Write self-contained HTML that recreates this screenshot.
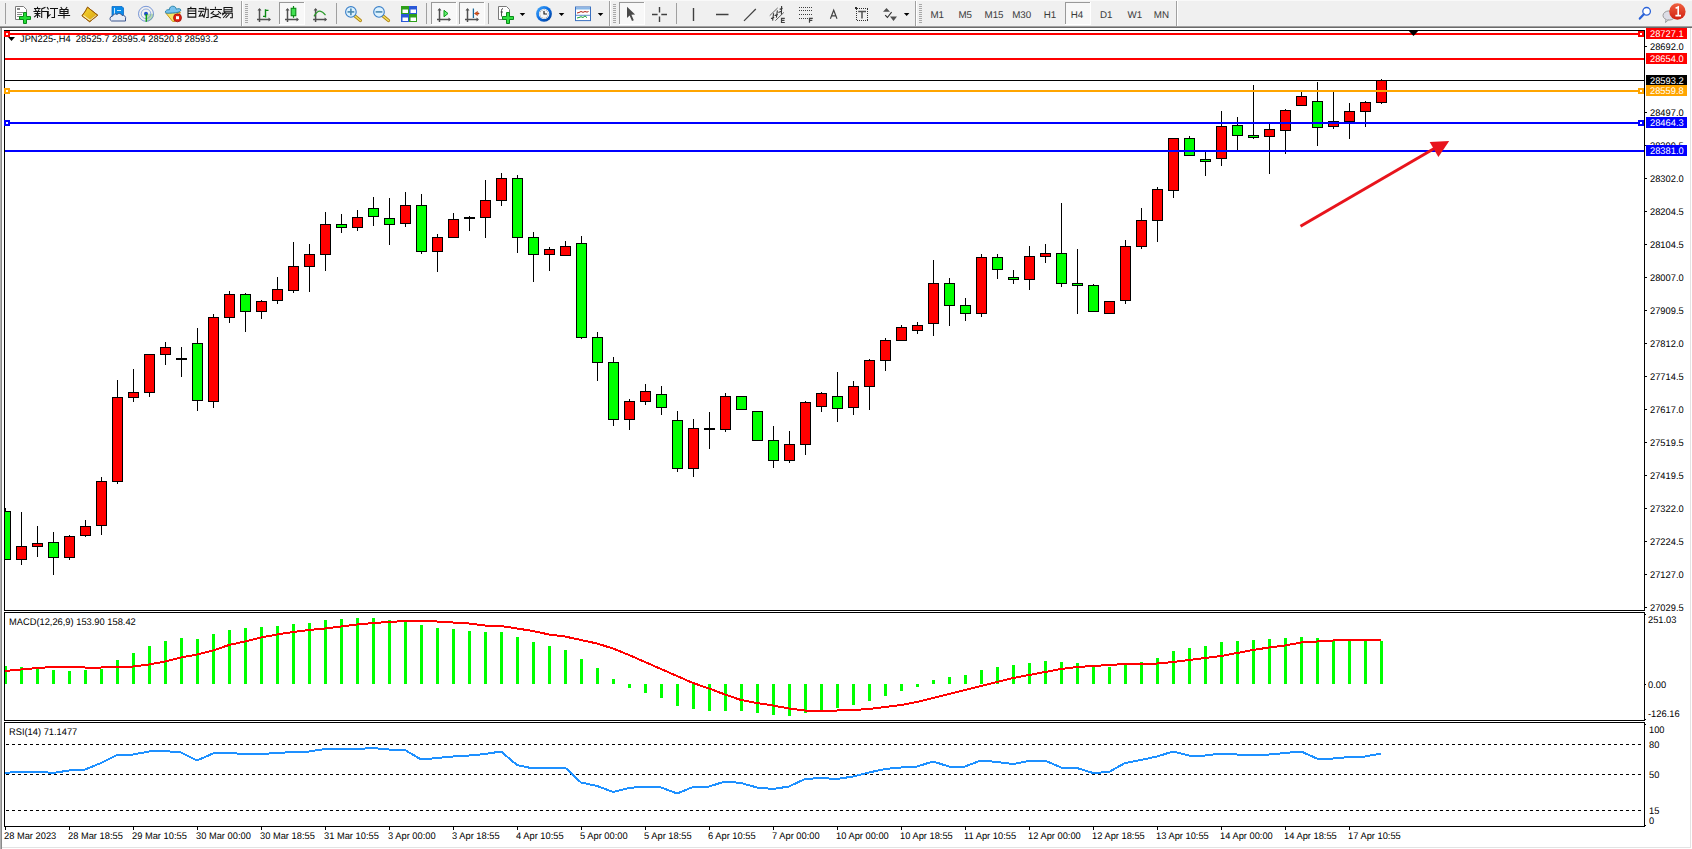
<!DOCTYPE html>
<html><head><meta charset="utf-8"><style>
html,body{margin:0;padding:0;width:1692px;height:849px;overflow:hidden;background:#fff;font-family:"Liberation Sans", sans-serif;}
#tb{position:absolute;left:0;top:0;width:1692px;height:26px;background:#f0f0f0;}
</style></head><body>
<svg width="1692" height="849" viewBox="0 0 1692 849" style="position:absolute;left:0;top:0" shape-rendering="crispEdges">
<defs>
<clipPath id="cmain"><rect x="5" y="31" width="1639" height="579"/></clipPath>
<clipPath id="cmacd"><rect x="5" y="613" width="1639" height="107"/></clipPath>
<clipPath id="crsi"><rect x="5" y="723" width="1639" height="103"/></clipPath>
</defs>
<rect x="0" y="0" width="1692" height="26" fill="#f0f0f0"/><rect x="0" y="0" width="1692" height="1" fill="#f9f9f9"/><rect x="241" y="1" width="1" height="25" fill="#a0a0a0"/><rect x="242" y="1" width="1" height="25" fill="#ffffff"/><rect x="609" y="1" width="1" height="25" fill="#a0a0a0"/><rect x="610" y="1" width="1" height="25" fill="#ffffff"/><rect x="915" y="1" width="1" height="25" fill="#a0a0a0"/><rect x="916" y="1" width="1" height="25" fill="#ffffff"/><rect x="1176" y="1" width="1" height="25" fill="#a0a0a0"/><rect x="1177" y="1" width="1" height="25" fill="#ffffff"/><rect x="245" y="4" width="3" height="1" fill="#a8a8a8"/><rect x="245" y="6" width="3" height="1" fill="#a8a8a8"/><rect x="245" y="8" width="3" height="1" fill="#a8a8a8"/><rect x="245" y="10" width="3" height="1" fill="#a8a8a8"/><rect x="245" y="12" width="3" height="1" fill="#a8a8a8"/><rect x="245" y="14" width="3" height="1" fill="#a8a8a8"/><rect x="245" y="16" width="3" height="1" fill="#a8a8a8"/><rect x="245" y="18" width="3" height="1" fill="#a8a8a8"/><rect x="245" y="20" width="3" height="1" fill="#a8a8a8"/><rect x="245" y="22" width="3" height="1" fill="#a8a8a8"/><rect x="613" y="4" width="3" height="1" fill="#a8a8a8"/><rect x="613" y="6" width="3" height="1" fill="#a8a8a8"/><rect x="613" y="8" width="3" height="1" fill="#a8a8a8"/><rect x="613" y="10" width="3" height="1" fill="#a8a8a8"/><rect x="613" y="12" width="3" height="1" fill="#a8a8a8"/><rect x="613" y="14" width="3" height="1" fill="#a8a8a8"/><rect x="613" y="16" width="3" height="1" fill="#a8a8a8"/><rect x="613" y="18" width="3" height="1" fill="#a8a8a8"/><rect x="613" y="20" width="3" height="1" fill="#a8a8a8"/><rect x="613" y="22" width="3" height="1" fill="#a8a8a8"/><rect x="919" y="4" width="3" height="1" fill="#a8a8a8"/><rect x="919" y="6" width="3" height="1" fill="#a8a8a8"/><rect x="919" y="8" width="3" height="1" fill="#a8a8a8"/><rect x="919" y="10" width="3" height="1" fill="#a8a8a8"/><rect x="919" y="12" width="3" height="1" fill="#a8a8a8"/><rect x="919" y="14" width="3" height="1" fill="#a8a8a8"/><rect x="919" y="16" width="3" height="1" fill="#a8a8a8"/><rect x="919" y="18" width="3" height="1" fill="#a8a8a8"/><rect x="919" y="20" width="3" height="1" fill="#a8a8a8"/><rect x="919" y="22" width="3" height="1" fill="#a8a8a8"/><rect x="5" y="3" width="1" height="21" fill="#a0a0a0"/><rect x="336" y="3" width="1" height="21" fill="#a0a0a0"/><rect x="426" y="3" width="1" height="21" fill="#a0a0a0"/><rect x="488" y="3" width="1" height="21" fill="#a0a0a0"/><rect x="676" y="3" width="1" height="21" fill="#a0a0a0"/><rect x="279" y="2" width="25" height="22" fill="#f8f8f8"/><rect x="279" y="2" width="25" height="1" fill="#999999"/><rect x="279" y="2" width="1" height="22" fill="#999999"/><rect x="304" y="2" width="1" height="23" fill="#ffffff"/><rect x="279" y="24" width="26" height="1" fill="#ffffff"/><rect x="431" y="2" width="25" height="22" fill="#f8f8f8"/><rect x="431" y="2" width="25" height="1" fill="#999999"/><rect x="431" y="2" width="1" height="22" fill="#999999"/><rect x="456" y="2" width="1" height="23" fill="#ffffff"/><rect x="431" y="24" width="26" height="1" fill="#ffffff"/><rect x="459" y="2" width="25" height="22" fill="#f8f8f8"/><rect x="459" y="2" width="25" height="1" fill="#999999"/><rect x="459" y="2" width="1" height="22" fill="#999999"/><rect x="484" y="2" width="1" height="23" fill="#ffffff"/><rect x="459" y="24" width="26" height="1" fill="#ffffff"/><rect x="619" y="2" width="25" height="22" fill="#f8f8f8"/><rect x="619" y="2" width="25" height="1" fill="#999999"/><rect x="619" y="2" width="1" height="22" fill="#999999"/><rect x="644" y="2" width="1" height="23" fill="#ffffff"/><rect x="619" y="24" width="26" height="1" fill="#ffffff"/><rect x="1065" y="2" width="25" height="22" fill="#f8f8f8"/><rect x="1065" y="2" width="25" height="1" fill="#999999"/><rect x="1065" y="2" width="1" height="22" fill="#999999"/><rect x="1090" y="2" width="1" height="23" fill="#ffffff"/><rect x="1065" y="24" width="26" height="1" fill="#ffffff"/><g shape-rendering="auto"><path d="M15.5,6.5 h8 l3,3 v10 h-11 z" fill="#fff" stroke="#7a7a7a" stroke-width="1"/><rect x="17" y="8" width="3" height="2" fill="#8a8a8a"/><rect x="17" y="12" width="6" height="1" fill="#8a8a8a"/><rect x="17" y="14" width="5" height="1" fill="#8a8a8a"/><rect x="17" y="16" width="3" height="1" fill="#8a8a8a"/><path d="M23.5,12.5 h3 v4 h4 v3 h-4 v4 h-3 v-4 h-4 v-3 h4 z" fill="#22dd33" stroke="#0a8a1a" stroke-width="1"/><g fill="none" stroke="#111" stroke-width="1.05" stroke-linecap="square"><path d="M37.5,7.3 v1 M34.5,8.5 h5.5 M35.3,9.6 l0.8,1.2 M39,9.6 l-0.7,1.2 M34,11.5 h6 M35,13.4 h5 M37.5,11.5 v6 M37,14.5 l-2.5,2.3 M38.2,14.8 l1.6,1.5"/><path d="M45,7.5 l-3.3,1.4 v8.5 M41.7,11.5 h6 M47.5,11.5 v6.4"/><path d="M47.3,7.5 l1,1.6 M46.4,11.5 h1.8 v4.8 l2,-1.6 M50.5,8.5 h7 M54.5,8.5 v9 h-2.5"/><path d="M61,7.4 l1,1.3 M66.8,7.4 l-1,1.3 M60,9.5 h8 v4 h-8 z M60,11.5 h8 M64,9.5 v8.4 M58.4,15.5 h11.2"/></g><path d="M87.5,7.2 L97.7,15.2 L89.7,21.7 L82,15.8 L85.5,11 Z" fill="#e6b422" stroke="#9a5c0a" stroke-width="1"/><defs><linearGradient id="book" x1="0" y1="0" x2="1" y2="1"><stop offset="0" stop-color="#f8d830"/><stop offset="1" stop-color="#d8a010"/></linearGradient></defs><path d="M87.5,7.6 L97.2,15.2 L89.7,21.2 L82.5,15.8 Z" fill="url(#book)"/><path d="M83.2,15.6 L89.8,20.3" fill="none" stroke="#f8eaa8" stroke-width="1.4"/><path d="M90.4,20.2 L96.4,15.4" fill="none" stroke="#e8dcb0" stroke-width="1.3"/><path d="M87.5,7.2 L97.7,15.2 L89.7,21.7 L82,15.8 L85.5,11 Z" fill="none" stroke="#9a5c0a" stroke-width="1"/><path d="M112,6.5 h10 l1.5,1.5 v8 h-11.5 z" fill="#0a8ae8" stroke="#0a6ac8" stroke-width="0.8"/><path d="M114.5,8 v6 M117,10.5 h4" stroke="#c8e8ff" stroke-width="1" fill="none"/><path d="M111.5,21 a2.5,2.5 0 0 1 1,-4.8 a3,3 0 0 1 4.5,-1.8 a3,3 0 0 1 5,1 a2.8,2.8 0 0 1 3.5,3.6 v2 z" fill="#e8ecf4" stroke="#3a5690" stroke-width="1"/><path d="M146,13.8 L146,21.8 A8,8 0 0 0 154,13.8 Z" fill="#b8dcb0"/><circle cx="146" cy="13.8" r="7.5" fill="none" stroke="#5a80d0" stroke-width="1" opacity="0.8"/><circle cx="146" cy="13.8" r="4.8" fill="none" stroke="#6a90d8" stroke-width="1" opacity="0.7"/><circle cx="146" cy="13.8" r="2" fill="#2050c8"/><path d="M146.3,14 v7.8" stroke="#10a010" stroke-width="1.4"/><path d="M165.8,13 L180.4,12.4 L175,21.4 L172.6,21.4 Z" fill="#f4e468" stroke="#c8981a" stroke-width="1"/><path d="M165.4,12.3 C165.2,10.2 167.5,9.4 169.4,9.8 C169.4,7.2 171,6.2 172.8,6.2 C175,6.2 176.2,7.6 176.2,9.2 C178,8.4 181,8.5 180.8,10.2 C180.5,12 176.5,12.9 172.5,13 C168.5,13.2 165.6,13.6 165.4,12.3 Z" fill="#78c2ee" stroke="#2a84aa" stroke-width="1"/><circle cx="177.5" cy="17.8" r="4" fill="#e02010" stroke="#a01008" stroke-width="0.8"/><rect x="176" y="16.2" width="3" height="3" fill="#fff"/><g fill="none" stroke="#111" stroke-width="1.05" stroke-linecap="square"><path d="M191,7.3 l-0.6,1 M188,8.6 h7.8 v8.5 h-7.8 z M188,11 h7.8 M188,13.5 h7.8"/><path d="M199.3,8.6 h4 M198.6,11.3 h5.2 M201.5,11.8 l-2.2,4.5 l3.5,-0.8 M202.5,14.3 l0.8,2 M203.6,9.2 h4.6 v8.2 h-1.5 M205.8,7.3 v2.5 l-1.8,7.5"/><path d="M215.4,7.3 v1 M210.5,9.4 h11 M213.4,11.5 l-2.3,2 M218.4,11.5 l2.3,2 M212.8,14 l7.5,3.8 M218.6,14 l-7.6,3.8"/><path d="M224,7.5 h8 v4.3 h-8 z M224,9.7 h8 M222.5,13.3 h9.8 v4.5 h-1.8 M225,12.3 l-2.5,2.5 M226.3,14.5 l-2.8,3 M229,14.5 l-3,3"/></g><path d="M259.5,9 V22 M257.0,19.5 H270.0" stroke="#505050" stroke-width="1.5" fill="none"/><path d="M257.5,10.5 L259.5,8 L261.5,10.5 Z M268.5,17.5 L271.0,19.5 L268.5,21.5 Z" fill="#505050"/><path d="M265.5,9.2 V17.6 M265.5,10.4 H268.5 M263,16.4 H265.5" stroke="#0a8a14" stroke-width="1.4" fill="none"/><path d="M287.5,9 V22 M285.0,19.5 H298.0" stroke="#505050" stroke-width="1.5" fill="none"/><path d="M285.5,10.5 L287.5,8 L289.5,10.5 Z M296.5,17.5 L299.0,19.5 L296.5,21.5 Z" fill="#505050"/><path d="M293.5,6 V17.8" stroke="#0a8a14" stroke-width="1.2"/><rect x="291.2" y="8.3" width="4.6" height="7.4" fill="#40e050" stroke="#0a8a14" stroke-width="1.1"/><path d="M315.6,9 V22 M313.1,19.5 H326.1" stroke="#505050" stroke-width="1.5" fill="none"/><path d="M313.6,10.5 L315.6,8 L317.6,10.5 Z M324.6,17.5 L327.1,19.5 L324.6,21.5 Z" fill="#505050"/><path d="M314,16.4 Q317,11 320,11.2 Q322.5,11.5 325.5,15.2" stroke="#2a9a2a" stroke-width="1.2" fill="none"/><path d="M354.9,16 L360.4,20.5" stroke="#b08010" stroke-width="3.2" stroke-linecap="round"/><path d="M354.9,16 L360.4,20.5" stroke="#f0e060" stroke-width="1.6" stroke-linecap="round"/><circle cx="350.9" cy="11.9" r="5.3" fill="#dcf2ff" stroke="#3a7fc8" stroke-width="1.1"/><path d="M347.5,11.9 H354.29999999999995" stroke="#4a88b0" stroke-width="1.6"/><path d="M350.9,8.5 V15.3" stroke="#4a88b0" stroke-width="1.6"/><path d="M383,16 L388.5,20.5" stroke="#b08010" stroke-width="3.2" stroke-linecap="round"/><path d="M383,16 L388.5,20.5" stroke="#f0e060" stroke-width="1.6" stroke-linecap="round"/><circle cx="379" cy="11.9" r="5.3" fill="#dcf2ff" stroke="#3a7fc8" stroke-width="1.1"/><path d="M375.6,11.9 H382.4" stroke="#4a88b0" stroke-width="1.6"/><rect x="401" y="6" width="8" height="8" fill="#2ea01a"/><rect x="402.5" y="9.5" width="5.5" height="3.5" fill="#fff"/><rect x="409" y="6" width="8" height="8" fill="#2a58d8"/><rect x="410.5" y="9.5" width="5.5" height="3.5" fill="#fff"/><rect x="401" y="14" width="8" height="8" fill="#2a58d8"/><rect x="402.5" y="17.5" width="5.5" height="3.5" fill="#fff"/><rect x="409" y="14" width="8" height="8" fill="#2ea01a"/><rect x="410.5" y="17.5" width="5.5" height="3.5" fill="#fff"/><path d="M439.5,9 V22 M437.0,19.5 H450.0" stroke="#505050" stroke-width="1.5" fill="none"/><path d="M437.5,10.5 L439.5,8 L441.5,10.5 Z M448.5,17.5 L451.0,19.5 L448.5,21.5 Z" fill="#505050"/><path d="M444,10.3 L448,13.5 L444,16.8 Z" fill="#60ee70" stroke="#0a9a14" stroke-width="1"/><path d="M467.5,9 V22 M465.0,19.5 H478.0" stroke="#505050" stroke-width="1.5" fill="none"/><path d="M465.5,10.5 L467.5,8 L469.5,10.5 Z M476.5,17.5 L479.0,19.5 L476.5,21.5 Z" fill="#505050"/><path d="M473.4,8.5 V18" stroke="#1a6a9a" stroke-width="1.3"/><path d="M474.5,13.5 L477.5,11.5 L477,13 H479 V14 H477 L477.5,15.5 Z" fill="#e85a10" stroke="#9a2a0a" stroke-width="0.6"/><path d="M498.5,6.5 h8 l3,3 v10 h-11 z" fill="#fff" stroke="#7a7a7a" stroke-width="1"/><path d="M503,8.5 q-1.5,0 -1.5,2 v6 M500.5,12 h2.5" stroke="#404040" stroke-width="0.9" fill="none"/><path d="M506.5,12.5 h3 v4 h4 v3 h-4 v4 h-3 v-4 h-4 v-3 h4 z" fill="#30e040" stroke="#0a8a1a" stroke-width="1"/><path d="M519.7,13 h5.5 l-2.75,3 z" fill="#000"/><path d="M558.8,13 h5.5 l-2.75,3 z" fill="#000"/><path d="M597.8,13 h5.5 l-2.75,3 z" fill="#000"/><path d="M903.9,13 h5.5 l-2.75,3 z" fill="#000"/><defs><linearGradient id="clk" x1="0" y1="0" x2="1" y2="1"><stop offset="0" stop-color="#4ab0ff"/><stop offset="0.5" stop-color="#0a6ae0"/><stop offset="1" stop-color="#003a90"/></linearGradient><linearGradient id="badge" x1="0" y1="0" x2="0" y2="1"><stop offset="0" stop-color="#f06040"/><stop offset="1" stop-color="#d02010"/></linearGradient></defs><circle cx="544" cy="13.8" r="7.9" fill="url(#clk)"/><circle cx="544.1" cy="13.9" r="5.2" fill="#f6f6f6"/><circle cx="544.10" cy="9.70" r="0.45" fill="#555"/><circle cx="546.20" cy="10.26" r="0.45" fill="#555"/><circle cx="547.74" cy="11.80" r="0.45" fill="#555"/><circle cx="548.30" cy="13.90" r="0.45" fill="#555"/><circle cx="547.74" cy="16.00" r="0.45" fill="#555"/><circle cx="546.20" cy="17.54" r="0.45" fill="#555"/><circle cx="544.10" cy="18.10" r="0.45" fill="#555"/><circle cx="542.00" cy="17.54" r="0.45" fill="#555"/><circle cx="540.46" cy="16.00" r="0.45" fill="#555"/><circle cx="539.90" cy="13.90" r="0.45" fill="#555"/><circle cx="540.46" cy="11.80" r="0.45" fill="#555"/><circle cx="542.00" cy="10.26" r="0.45" fill="#555"/><path d="M544,11 V14 H547" stroke="#202020" stroke-width="1.2" fill="none"/><rect x="575.5" y="7" width="15" height="13.6" fill="#fff" stroke="#3a70c0" stroke-width="1"/><rect x="576" y="7.5" width="14" height="2" fill="#8ab8e8"/><path d="M576,15.3 h14" stroke="#3a70c0" stroke-width="0.8"/><path d="M577,13 l2,-0.5 l2,-1 l2,0.8 l2,-0.8 l2,0.6 l1.5,-0.6" stroke="#b02010" stroke-width="1" fill="none"/><path d="M577,18 l2,-0.5 l2,-0.8 l2,0.8 l2,-1.6 l2,1.8" stroke="#10a030" stroke-width="1" fill="none"/><path d="M627,6.7 L635.1,14.6 L631.4,14.8 L633.8,20.2 L632,21 L629.6,15.6 L627,18 Z" fill="#4a4a4a"/><path d="M652,14.5 H657.6 M661.3,14.5 H667 M659.5,7 V12.6 M659.5,16.4 V22" stroke="#404040" stroke-width="1.4"/><path d="M693.5,8 V21 M716,14.5 H728.5" stroke="#404040" stroke-width="1.4"/><path d="M744,20.8 L755.8,9" stroke="#404040" stroke-width="1.2"/><path d="M769.7,15.7 L777.7,7.9 M775.3,20.7 L783.9,12.4" stroke="#505050" stroke-width="0.9" fill="none"/><path d="M772.6,20.6 L773.6,13.2 M776.4,17.6 L777.4,10.4 M781.6,6 L781.4,14.6 M771,18.6 l3.2,-1.2 M774.6,15.6 l3.2,-1.2 M778.4,12.4 l3.4,-1.4 M779.6,9.2 l3,-0.8" stroke="#383838" stroke-width="1.1" fill="none"/><path d="M784.8,18.3 h-3.3 v4.2 h3.3 M781.5,20.4 h3" stroke="#404040" stroke-width="1.2" fill="none"/><rect x="799" y="7" width="1" height="1" fill="#404040"/><rect x="801" y="7" width="1" height="1" fill="#404040"/><rect x="803" y="7" width="1" height="1" fill="#404040"/><rect x="805" y="7" width="1" height="1" fill="#404040"/><rect x="807" y="7" width="1" height="1" fill="#404040"/><rect x="809" y="7" width="1" height="1" fill="#404040"/><rect x="811" y="7" width="1" height="1" fill="#404040"/><rect x="799" y="10" width="1" height="1" fill="#404040"/><rect x="801" y="10" width="1" height="1" fill="#404040"/><rect x="803" y="10" width="1" height="1" fill="#404040"/><rect x="805" y="10" width="1" height="1" fill="#404040"/><rect x="807" y="10" width="1" height="1" fill="#404040"/><rect x="809" y="10" width="1" height="1" fill="#404040"/><rect x="811" y="10" width="1" height="1" fill="#404040"/><rect x="799" y="14" width="1" height="1" fill="#404040"/><rect x="801" y="14" width="1" height="1" fill="#404040"/><rect x="803" y="14" width="1" height="1" fill="#404040"/><rect x="805" y="14" width="1" height="1" fill="#404040"/><rect x="807" y="14" width="1" height="1" fill="#404040"/><rect x="809" y="14" width="1" height="1" fill="#404040"/><rect x="811" y="14" width="1" height="1" fill="#404040"/><rect x="799" y="18" width="1" height="1" fill="#404040"/><rect x="801" y="18" width="1" height="1" fill="#404040"/><rect x="803" y="18" width="1" height="1" fill="#404040"/><rect x="805" y="18" width="1" height="1" fill="#404040"/><rect x="807" y="18" width="1" height="1" fill="#404040"/><path d="M812.8,18.3 h-3.3 v4.5 M809.5,20.4 h2.8" stroke="#404040" stroke-width="1.2" fill="none"/><path d="M830.4,18.8 L833.7,10.2 L837,18.8 M831.7,15.8 H835.7" stroke="#404040" stroke-width="1.15" fill="none"/><rect x="857" y="8" width="1" height="1" fill="#303030"/><rect x="857" y="20" width="1" height="1" fill="#303030"/><rect x="859" y="8" width="1" height="1" fill="#303030"/><rect x="859" y="20" width="1" height="1" fill="#303030"/><rect x="861" y="8" width="1" height="1" fill="#303030"/><rect x="861" y="20" width="1" height="1" fill="#303030"/><rect x="863" y="8" width="1" height="1" fill="#303030"/><rect x="863" y="20" width="1" height="1" fill="#303030"/><rect x="865" y="8" width="1" height="1" fill="#303030"/><rect x="865" y="20" width="1" height="1" fill="#303030"/><rect x="867" y="8" width="1" height="1" fill="#303030"/><rect x="867" y="20" width="1" height="1" fill="#303030"/><rect x="856" y="9" width="1" height="1" fill="#303030"/><rect x="867" y="9" width="1" height="1" fill="#303030"/><rect x="856" y="11" width="1" height="1" fill="#303030"/><rect x="867" y="11" width="1" height="1" fill="#303030"/><rect x="856" y="13" width="1" height="1" fill="#303030"/><rect x="867" y="13" width="1" height="1" fill="#303030"/><rect x="856" y="15" width="1" height="1" fill="#303030"/><rect x="867" y="15" width="1" height="1" fill="#303030"/><rect x="856" y="17" width="1" height="1" fill="#303030"/><rect x="867" y="17" width="1" height="1" fill="#303030"/><rect x="856" y="19" width="1" height="1" fill="#303030"/><rect x="867" y="19" width="1" height="1" fill="#303030"/><rect x="855" y="7" width="2" height="2" fill="#303030"/><path d="M858.2,11.5 H866 M862,11.5 V18.6" stroke="#505050" stroke-width="1.5" fill="none"/><path d="M883,11.8 L886.5,8 L890,11.8 Z M890,16.4 L897,16.4 L893.5,20.9 Z" fill="#505050"/><path d="M885.2,15.2 L887.4,17.5 L891.6,12.2" stroke="#303030" stroke-width="1.1" fill="none"/><circle cx="1646.6" cy="11.3" r="3.8" fill="#fff" stroke="#2a62d8" stroke-width="1.3"/><path d="M1643.8,14.2 L1639.8,18.6" stroke="#2a62d8" stroke-width="2.2" stroke-linecap="round"/><ellipse cx="1669" cy="15.5" rx="6" ry="4.6" fill="#dcdde6" stroke="#9a9a9a" stroke-width="1"/><path d="M1666,19.5 L1665.5,22.5 L1668.5,19.8" fill="#dcdde6" stroke="#8a8a8a" stroke-width="0.8"/><circle cx="1677.4" cy="11.5" r="8.2" fill="url(#badge)"/><path d="M1675.6,8.2 L1678.2,7 V15.6 M1675.4,15.6 H1681" stroke="#fff" stroke-width="1.6" fill="none"/></g>
<rect x="0" y="26" width="1692" height="1" fill="#a0a0a0"/><rect x="0" y="27" width="1692" height="1" fill="#6a6a6a"/><rect x="0" y="28" width="1" height="821" fill="#b0b0b0"/><rect x="1" y="28" width="1" height="821" fill="#8a8a8a"/><rect x="4" y="30" width="1641" height="1" fill="#000"/><rect x="4" y="610" width="1641" height="1" fill="#000"/><rect x="4" y="30" width="1" height="581" fill="#000"/><rect x="1644" y="30" width="1" height="581" fill="#000"/><rect x="4" y="612" width="1641" height="1" fill="#000"/><rect x="4" y="720" width="1641" height="1" fill="#000"/><rect x="4" y="612" width="1" height="109" fill="#000"/><rect x="1644" y="612" width="1" height="109" fill="#000"/><rect x="4" y="722" width="1641" height="1" fill="#000"/><rect x="4" y="826" width="1641" height="1" fill="#000"/><rect x="4" y="722" width="1" height="105" fill="#000"/><rect x="1644" y="722" width="1" height="105" fill="#000"/><g clip-path="url(#cmain)"><rect x="5" y="508" width="1" height="3" fill="#000"/><rect x="0" y="511" width="11" height="49" fill="#000"/><rect x="1" y="512" width="9" height="47" fill="#00ff00"/><rect x="21" y="512" width="1" height="34" fill="#000"/><rect x="21" y="560" width="1" height="5" fill="#000"/><rect x="16" y="546" width="11" height="14" fill="#000"/><rect x="17" y="547" width="9" height="12" fill="#ff0000"/><rect x="37" y="526" width="1" height="17" fill="#000"/><rect x="37" y="547" width="1" height="10" fill="#000"/><rect x="32" y="543" width="11" height="4" fill="#000"/><rect x="33" y="544" width="9" height="2" fill="#ff0000"/><rect x="53" y="532" width="1" height="10" fill="#000"/><rect x="53" y="558" width="1" height="17" fill="#000"/><rect x="48" y="542" width="11" height="16" fill="#000"/><rect x="49" y="543" width="9" height="14" fill="#00ff00"/><rect x="69" y="535" width="1" height="1" fill="#000"/><rect x="69" y="558" width="1" height="2" fill="#000"/><rect x="64" y="536" width="11" height="22" fill="#000"/><rect x="65" y="537" width="9" height="20" fill="#ff0000"/><rect x="85" y="520" width="1" height="6" fill="#000"/><rect x="85" y="536" width="1" height="1" fill="#000"/><rect x="80" y="526" width="11" height="10" fill="#000"/><rect x="81" y="527" width="9" height="8" fill="#ff0000"/><rect x="101" y="477" width="1" height="4" fill="#000"/><rect x="101" y="526" width="1" height="9" fill="#000"/><rect x="96" y="481" width="11" height="45" fill="#000"/><rect x="97" y="482" width="9" height="43" fill="#ff0000"/><rect x="117" y="380" width="1" height="17" fill="#000"/><rect x="117" y="482" width="1" height="2" fill="#000"/><rect x="112" y="397" width="11" height="85" fill="#000"/><rect x="113" y="398" width="9" height="83" fill="#ff0000"/><rect x="133" y="369" width="1" height="23" fill="#000"/><rect x="133" y="398" width="1" height="4" fill="#000"/><rect x="128" y="392" width="11" height="6" fill="#000"/><rect x="129" y="393" width="9" height="4" fill="#ff0000"/><rect x="149" y="393" width="1" height="4" fill="#000"/><rect x="144" y="354" width="11" height="39" fill="#000"/><rect x="145" y="355" width="9" height="37" fill="#ff0000"/><rect x="165" y="342" width="1" height="5" fill="#000"/><rect x="165" y="355" width="1" height="10" fill="#000"/><rect x="160" y="347" width="11" height="8" fill="#000"/><rect x="161" y="348" width="9" height="6" fill="#ff0000"/><rect x="181" y="347" width="1" height="11" fill="#000"/><rect x="181" y="360" width="1" height="17" fill="#000"/><rect x="176" y="358" width="11" height="2" fill="#000"/><rect x="197" y="328" width="1" height="15" fill="#000"/><rect x="197" y="401" width="1" height="10" fill="#000"/><rect x="192" y="343" width="11" height="58" fill="#000"/><rect x="193" y="344" width="9" height="56" fill="#00ff00"/><rect x="213" y="314" width="1" height="3" fill="#000"/><rect x="213" y="402" width="1" height="6" fill="#000"/><rect x="208" y="317" width="11" height="85" fill="#000"/><rect x="209" y="318" width="9" height="83" fill="#ff0000"/><rect x="229" y="291" width="1" height="3" fill="#000"/><rect x="229" y="318" width="1" height="5" fill="#000"/><rect x="224" y="294" width="11" height="24" fill="#000"/><rect x="225" y="295" width="9" height="22" fill="#ff0000"/><rect x="245" y="293" width="1" height="1" fill="#000"/><rect x="245" y="312" width="1" height="20" fill="#000"/><rect x="240" y="294" width="11" height="18" fill="#000"/><rect x="241" y="295" width="9" height="16" fill="#00ff00"/><rect x="261" y="300" width="1" height="1" fill="#000"/><rect x="261" y="312" width="1" height="7" fill="#000"/><rect x="256" y="301" width="11" height="11" fill="#000"/><rect x="257" y="302" width="9" height="9" fill="#ff0000"/><rect x="277" y="277" width="1" height="12" fill="#000"/><rect x="277" y="301" width="1" height="3" fill="#000"/><rect x="272" y="289" width="11" height="12" fill="#000"/><rect x="273" y="290" width="9" height="10" fill="#ff0000"/><rect x="293" y="242" width="1" height="24" fill="#000"/><rect x="293" y="291" width="1" height="2" fill="#000"/><rect x="288" y="266" width="11" height="25" fill="#000"/><rect x="289" y="267" width="9" height="23" fill="#ff0000"/><rect x="309" y="244" width="1" height="10" fill="#000"/><rect x="309" y="267" width="1" height="25" fill="#000"/><rect x="304" y="254" width="11" height="13" fill="#000"/><rect x="305" y="255" width="9" height="11" fill="#ff0000"/><rect x="325" y="212" width="1" height="12" fill="#000"/><rect x="325" y="255" width="1" height="16" fill="#000"/><rect x="320" y="224" width="11" height="31" fill="#000"/><rect x="321" y="225" width="9" height="29" fill="#ff0000"/><rect x="341" y="214" width="1" height="10" fill="#000"/><rect x="341" y="228" width="1" height="5" fill="#000"/><rect x="336" y="224" width="11" height="4" fill="#000"/><rect x="337" y="225" width="9" height="2" fill="#00ff00"/><rect x="357" y="210" width="1" height="7" fill="#000"/><rect x="357" y="228" width="1" height="3" fill="#000"/><rect x="352" y="217" width="11" height="11" fill="#000"/><rect x="353" y="218" width="9" height="9" fill="#ff0000"/><rect x="373" y="197" width="1" height="11" fill="#000"/><rect x="373" y="217" width="1" height="9" fill="#000"/><rect x="368" y="208" width="11" height="9" fill="#000"/><rect x="369" y="209" width="9" height="7" fill="#00ff00"/><rect x="389" y="198" width="1" height="20" fill="#000"/><rect x="389" y="225" width="1" height="20" fill="#000"/><rect x="384" y="218" width="11" height="7" fill="#000"/><rect x="385" y="219" width="9" height="5" fill="#00ff00"/><rect x="405" y="192" width="1" height="13" fill="#000"/><rect x="405" y="224" width="1" height="3" fill="#000"/><rect x="400" y="205" width="11" height="19" fill="#000"/><rect x="401" y="206" width="9" height="17" fill="#ff0000"/><rect x="421" y="194" width="1" height="11" fill="#000"/><rect x="421" y="252" width="1" height="2" fill="#000"/><rect x="416" y="205" width="11" height="47" fill="#000"/><rect x="417" y="206" width="9" height="45" fill="#00ff00"/><rect x="437" y="234" width="1" height="3" fill="#000"/><rect x="437" y="252" width="1" height="20" fill="#000"/><rect x="432" y="237" width="11" height="15" fill="#000"/><rect x="433" y="238" width="9" height="13" fill="#ff0000"/><rect x="453" y="213" width="1" height="6" fill="#000"/><rect x="448" y="219" width="11" height="19" fill="#000"/><rect x="449" y="220" width="9" height="17" fill="#ff0000"/><rect x="469" y="216" width="1" height="1" fill="#000"/><rect x="469" y="219" width="1" height="12" fill="#000"/><rect x="464" y="217" width="11" height="2" fill="#000"/><rect x="485" y="180" width="1" height="20" fill="#000"/><rect x="485" y="218" width="1" height="20" fill="#000"/><rect x="480" y="200" width="11" height="18" fill="#000"/><rect x="481" y="201" width="9" height="16" fill="#ff0000"/><rect x="501" y="173" width="1" height="5" fill="#000"/><rect x="501" y="201" width="1" height="5" fill="#000"/><rect x="496" y="178" width="11" height="23" fill="#000"/><rect x="497" y="179" width="9" height="21" fill="#ff0000"/><rect x="517" y="175" width="1" height="3" fill="#000"/><rect x="517" y="238" width="1" height="15" fill="#000"/><rect x="512" y="178" width="11" height="60" fill="#000"/><rect x="513" y="179" width="9" height="58" fill="#00ff00"/><rect x="533" y="232" width="1" height="5" fill="#000"/><rect x="533" y="255" width="1" height="27" fill="#000"/><rect x="528" y="237" width="11" height="18" fill="#000"/><rect x="529" y="238" width="9" height="16" fill="#00ff00"/><rect x="549" y="247" width="1" height="2" fill="#000"/><rect x="549" y="255" width="1" height="16" fill="#000"/><rect x="544" y="249" width="11" height="6" fill="#000"/><rect x="545" y="250" width="9" height="4" fill="#ff0000"/><rect x="565" y="241" width="1" height="5" fill="#000"/><rect x="560" y="246" width="11" height="10" fill="#000"/><rect x="561" y="247" width="9" height="8" fill="#ff0000"/><rect x="581" y="236" width="1" height="7" fill="#000"/><rect x="581" y="338" width="1" height="1" fill="#000"/><rect x="576" y="243" width="11" height="95" fill="#000"/><rect x="577" y="244" width="9" height="93" fill="#00ff00"/><rect x="597" y="332" width="1" height="5" fill="#000"/><rect x="597" y="363" width="1" height="18" fill="#000"/><rect x="592" y="337" width="11" height="26" fill="#000"/><rect x="593" y="338" width="9" height="24" fill="#00ff00"/><rect x="613" y="357" width="1" height="5" fill="#000"/><rect x="613" y="420" width="1" height="6" fill="#000"/><rect x="608" y="362" width="11" height="58" fill="#000"/><rect x="609" y="363" width="9" height="56" fill="#00ff00"/><rect x="629" y="399" width="1" height="2" fill="#000"/><rect x="629" y="420" width="1" height="10" fill="#000"/><rect x="624" y="401" width="11" height="19" fill="#000"/><rect x="625" y="402" width="9" height="17" fill="#ff0000"/><rect x="645" y="384" width="1" height="7" fill="#000"/><rect x="645" y="402" width="1" height="3" fill="#000"/><rect x="640" y="391" width="11" height="11" fill="#000"/><rect x="641" y="392" width="9" height="9" fill="#ff0000"/><rect x="661" y="386" width="1" height="8" fill="#000"/><rect x="661" y="408" width="1" height="7" fill="#000"/><rect x="656" y="394" width="11" height="14" fill="#000"/><rect x="657" y="395" width="9" height="12" fill="#00ff00"/><rect x="677" y="411" width="1" height="9" fill="#000"/><rect x="677" y="469" width="1" height="3" fill="#000"/><rect x="672" y="420" width="11" height="49" fill="#000"/><rect x="673" y="421" width="9" height="47" fill="#00ff00"/><rect x="693" y="419" width="1" height="9" fill="#000"/><rect x="693" y="469" width="1" height="8" fill="#000"/><rect x="688" y="428" width="11" height="41" fill="#000"/><rect x="689" y="429" width="9" height="39" fill="#ff0000"/><rect x="709" y="412" width="1" height="16" fill="#000"/><rect x="709" y="430" width="1" height="19" fill="#000"/><rect x="704" y="428" width="11" height="2" fill="#000"/><rect x="725" y="393" width="1" height="3" fill="#000"/><rect x="725" y="430" width="1" height="2" fill="#000"/><rect x="720" y="396" width="11" height="34" fill="#000"/><rect x="721" y="397" width="9" height="32" fill="#ff0000"/><rect x="736" y="396" width="11" height="14" fill="#000"/><rect x="737" y="397" width="9" height="12" fill="#00ff00"/><rect x="752" y="411" width="11" height="30" fill="#000"/><rect x="753" y="412" width="9" height="28" fill="#00ff00"/><rect x="773" y="426" width="1" height="14" fill="#000"/><rect x="773" y="461" width="1" height="7" fill="#000"/><rect x="768" y="440" width="11" height="21" fill="#000"/><rect x="769" y="441" width="9" height="19" fill="#00ff00"/><rect x="789" y="431" width="1" height="13" fill="#000"/><rect x="789" y="461" width="1" height="2" fill="#000"/><rect x="784" y="444" width="11" height="17" fill="#000"/><rect x="785" y="445" width="9" height="15" fill="#ff0000"/><rect x="805" y="401" width="1" height="1" fill="#000"/><rect x="805" y="445" width="1" height="10" fill="#000"/><rect x="800" y="402" width="11" height="43" fill="#000"/><rect x="801" y="403" width="9" height="41" fill="#ff0000"/><rect x="821" y="392" width="1" height="1" fill="#000"/><rect x="821" y="407" width="1" height="5" fill="#000"/><rect x="816" y="393" width="11" height="14" fill="#000"/><rect x="817" y="394" width="9" height="12" fill="#ff0000"/><rect x="837" y="372" width="1" height="24" fill="#000"/><rect x="837" y="409" width="1" height="13" fill="#000"/><rect x="832" y="396" width="11" height="13" fill="#000"/><rect x="833" y="397" width="9" height="11" fill="#00ff00"/><rect x="853" y="381" width="1" height="5" fill="#000"/><rect x="853" y="408" width="1" height="7" fill="#000"/><rect x="848" y="386" width="11" height="22" fill="#000"/><rect x="849" y="387" width="9" height="20" fill="#ff0000"/><rect x="869" y="359" width="1" height="1" fill="#000"/><rect x="869" y="387" width="1" height="23" fill="#000"/><rect x="864" y="360" width="11" height="27" fill="#000"/><rect x="865" y="361" width="9" height="25" fill="#ff0000"/><rect x="885" y="338" width="1" height="2" fill="#000"/><rect x="885" y="361" width="1" height="10" fill="#000"/><rect x="880" y="340" width="11" height="21" fill="#000"/><rect x="881" y="341" width="9" height="19" fill="#ff0000"/><rect x="901" y="325" width="1" height="2" fill="#000"/><rect x="896" y="327" width="11" height="14" fill="#000"/><rect x="897" y="328" width="9" height="12" fill="#ff0000"/><rect x="917" y="322" width="1" height="3" fill="#000"/><rect x="917" y="331" width="1" height="3" fill="#000"/><rect x="912" y="325" width="11" height="6" fill="#000"/><rect x="913" y="326" width="9" height="4" fill="#ff0000"/><rect x="933" y="260" width="1" height="23" fill="#000"/><rect x="933" y="324" width="1" height="12" fill="#000"/><rect x="928" y="283" width="11" height="41" fill="#000"/><rect x="929" y="284" width="9" height="39" fill="#ff0000"/><rect x="949" y="278" width="1" height="5" fill="#000"/><rect x="949" y="306" width="1" height="20" fill="#000"/><rect x="944" y="283" width="11" height="23" fill="#000"/><rect x="945" y="284" width="9" height="21" fill="#00ff00"/><rect x="965" y="298" width="1" height="7" fill="#000"/><rect x="965" y="314" width="1" height="7" fill="#000"/><rect x="960" y="305" width="11" height="9" fill="#000"/><rect x="961" y="306" width="9" height="7" fill="#00ff00"/><rect x="981" y="254" width="1" height="3" fill="#000"/><rect x="981" y="314" width="1" height="3" fill="#000"/><rect x="976" y="257" width="11" height="57" fill="#000"/><rect x="977" y="258" width="9" height="55" fill="#ff0000"/><rect x="997" y="254" width="1" height="3" fill="#000"/><rect x="997" y="270" width="1" height="9" fill="#000"/><rect x="992" y="257" width="11" height="13" fill="#000"/><rect x="993" y="258" width="9" height="11" fill="#00ff00"/><rect x="1013" y="270" width="1" height="7" fill="#000"/><rect x="1013" y="280" width="1" height="4" fill="#000"/><rect x="1008" y="277" width="11" height="3" fill="#000"/><rect x="1009" y="278" width="9" height="1" fill="#00ff00"/><rect x="1029" y="246" width="1" height="10" fill="#000"/><rect x="1029" y="280" width="1" height="10" fill="#000"/><rect x="1024" y="256" width="11" height="24" fill="#000"/><rect x="1025" y="257" width="9" height="22" fill="#ff0000"/><rect x="1045" y="244" width="1" height="9" fill="#000"/><rect x="1045" y="257" width="1" height="6" fill="#000"/><rect x="1040" y="253" width="11" height="4" fill="#000"/><rect x="1041" y="254" width="9" height="2" fill="#ff0000"/><rect x="1061" y="203" width="1" height="50" fill="#000"/><rect x="1061" y="284" width="1" height="3" fill="#000"/><rect x="1056" y="253" width="11" height="31" fill="#000"/><rect x="1057" y="254" width="9" height="29" fill="#00ff00"/><rect x="1077" y="249" width="1" height="34" fill="#000"/><rect x="1077" y="286" width="1" height="28" fill="#000"/><rect x="1072" y="283" width="11" height="3" fill="#000"/><rect x="1073" y="284" width="9" height="1" fill="#00ff00"/><rect x="1093" y="284" width="1" height="1" fill="#000"/><rect x="1088" y="285" width="11" height="27" fill="#000"/><rect x="1089" y="286" width="9" height="25" fill="#00ff00"/><rect x="1104" y="301" width="11" height="13" fill="#000"/><rect x="1105" y="302" width="9" height="11" fill="#ff0000"/><rect x="1125" y="240" width="1" height="6" fill="#000"/><rect x="1125" y="301" width="1" height="3" fill="#000"/><rect x="1120" y="246" width="11" height="55" fill="#000"/><rect x="1121" y="247" width="9" height="53" fill="#ff0000"/><rect x="1141" y="208" width="1" height="12" fill="#000"/><rect x="1141" y="247" width="1" height="2" fill="#000"/><rect x="1136" y="220" width="11" height="27" fill="#000"/><rect x="1137" y="221" width="9" height="25" fill="#ff0000"/><rect x="1157" y="187" width="1" height="2" fill="#000"/><rect x="1157" y="221" width="1" height="21" fill="#000"/><rect x="1152" y="189" width="11" height="32" fill="#000"/><rect x="1153" y="190" width="9" height="30" fill="#ff0000"/><rect x="1173" y="191" width="1" height="7" fill="#000"/><rect x="1168" y="138" width="11" height="53" fill="#000"/><rect x="1169" y="139" width="9" height="51" fill="#ff0000"/><rect x="1189" y="136" width="1" height="2" fill="#000"/><rect x="1184" y="138" width="11" height="18" fill="#000"/><rect x="1185" y="139" width="9" height="16" fill="#00ff00"/><rect x="1205" y="152" width="1" height="7" fill="#000"/><rect x="1205" y="162" width="1" height="14" fill="#000"/><rect x="1200" y="159" width="11" height="3" fill="#000"/><rect x="1201" y="160" width="9" height="1" fill="#00ff00"/><rect x="1221" y="111" width="1" height="15" fill="#000"/><rect x="1221" y="159" width="1" height="7" fill="#000"/><rect x="1216" y="126" width="11" height="33" fill="#000"/><rect x="1217" y="127" width="9" height="31" fill="#ff0000"/><rect x="1237" y="117" width="1" height="8" fill="#000"/><rect x="1237" y="136" width="1" height="14" fill="#000"/><rect x="1232" y="125" width="11" height="11" fill="#000"/><rect x="1233" y="126" width="9" height="9" fill="#00ff00"/><rect x="1253" y="85" width="1" height="50" fill="#000"/><rect x="1253" y="138" width="1" height="1" fill="#000"/><rect x="1248" y="135" width="11" height="3" fill="#000"/><rect x="1249" y="136" width="9" height="1" fill="#00ff00"/><rect x="1269" y="124" width="1" height="5" fill="#000"/><rect x="1269" y="137" width="1" height="37" fill="#000"/><rect x="1264" y="129" width="11" height="8" fill="#000"/><rect x="1265" y="130" width="9" height="6" fill="#ff0000"/><rect x="1285" y="109" width="1" height="1" fill="#000"/><rect x="1285" y="131" width="1" height="23" fill="#000"/><rect x="1280" y="110" width="11" height="21" fill="#000"/><rect x="1281" y="111" width="9" height="19" fill="#ff0000"/><rect x="1301" y="92" width="1" height="4" fill="#000"/><rect x="1296" y="96" width="11" height="10" fill="#000"/><rect x="1297" y="97" width="9" height="8" fill="#ff0000"/><rect x="1317" y="82" width="1" height="19" fill="#000"/><rect x="1317" y="128" width="1" height="18" fill="#000"/><rect x="1312" y="101" width="11" height="27" fill="#000"/><rect x="1313" y="102" width="9" height="25" fill="#00ff00"/><rect x="1333" y="92" width="1" height="29" fill="#000"/><rect x="1333" y="127" width="1" height="2" fill="#000"/><rect x="1328" y="121" width="11" height="6" fill="#000"/><rect x="1329" y="122" width="9" height="4" fill="#ff0000"/><rect x="1349" y="103" width="1" height="8" fill="#000"/><rect x="1349" y="122" width="1" height="17" fill="#000"/><rect x="1344" y="111" width="11" height="11" fill="#000"/><rect x="1345" y="112" width="9" height="9" fill="#ff0000"/><rect x="1365" y="101" width="1" height="1" fill="#000"/><rect x="1365" y="112" width="1" height="15" fill="#000"/><rect x="1360" y="102" width="11" height="10" fill="#000"/><rect x="1361" y="103" width="9" height="8" fill="#ff0000"/><rect x="1381" y="79" width="1" height="1" fill="#000"/><rect x="1381" y="103" width="1" height="1" fill="#000"/><rect x="1376" y="80" width="11" height="23" fill="#000"/><rect x="1377" y="81" width="9" height="21" fill="#ff0000"/></g><rect x="5" y="33" width="1639" height="2" fill="#ff0000"/><rect x="5" y="58" width="1639" height="2" fill="#ff0000"/><rect x="5" y="80" width="1639" height="1" fill="#000"/><rect x="5" y="90" width="1639" height="2" fill="#ffa500"/><rect x="5" y="122" width="1639" height="2" fill="#0000ff"/><rect x="5" y="150" width="1639" height="2" fill="#0000ff"/><rect x="4" y="31" width="6" height="6" fill="#ff0000"/><rect x="6" y="33" width="2" height="2" fill="#fff"/><rect x="1638" y="31" width="6" height="6" fill="#ff0000"/><rect x="1640" y="33" width="2" height="2" fill="#fff"/><rect x="4" y="88" width="6" height="6" fill="#ffa500"/><rect x="6" y="90" width="2" height="2" fill="#fff"/><rect x="1638" y="88" width="6" height="6" fill="#ffa500"/><rect x="1640" y="90" width="2" height="2" fill="#fff"/><rect x="4" y="120" width="6" height="6" fill="#0000ff"/><rect x="6" y="122" width="2" height="2" fill="#fff"/><rect x="1638" y="120" width="6" height="6" fill="#0000ff"/><rect x="1640" y="122" width="2" height="2" fill="#fff"/><polygon points="1408,30 1419,30 1413.5,36" fill="#000" shape-rendering="auto"/><line x1="1300.5" y1="226.2" x2="1436" y2="147.5" stroke="#e8141c" stroke-width="3" shape-rendering="auto"/><polygon points="1429.7,142 1449.2,140.9 1438.4,157" fill="#e8141c" shape-rendering="auto"/><rect x="1645" y="46" width="2" height="1" fill="#000"/><rect x="1645" y="112" width="2" height="1" fill="#000"/><rect x="1645" y="145" width="2" height="1" fill="#000"/><rect x="1645" y="178" width="2" height="1" fill="#000"/><rect x="1645" y="211" width="2" height="1" fill="#000"/><rect x="1645" y="244" width="2" height="1" fill="#000"/><rect x="1645" y="277" width="2" height="1" fill="#000"/><rect x="1645" y="310" width="2" height="1" fill="#000"/><rect x="1645" y="343" width="2" height="1" fill="#000"/><rect x="1645" y="376" width="2" height="1" fill="#000"/><rect x="1645" y="409" width="2" height="1" fill="#000"/><rect x="1645" y="442" width="2" height="1" fill="#000"/><rect x="1645" y="475" width="2" height="1" fill="#000"/><rect x="1645" y="508" width="2" height="1" fill="#000"/><rect x="1645" y="541" width="2" height="1" fill="#000"/><rect x="1645" y="574" width="2" height="1" fill="#000"/><rect x="1645" y="607" width="2" height="1" fill="#000"/><polygon points="8,37 15,37 11.5,41" fill="#000" shape-rendering="auto"/><g clip-path="url(#cmacd)"><rect x="4" y="666" width="3" height="18" fill="#00ff00"/><rect x="20" y="667" width="3" height="17" fill="#00ff00"/><rect x="36" y="668" width="3" height="16" fill="#00ff00"/><rect x="52" y="670" width="3" height="14" fill="#00ff00"/><rect x="68" y="671" width="3" height="13" fill="#00ff00"/><rect x="84" y="670" width="3" height="14" fill="#00ff00"/><rect x="100" y="669" width="3" height="15" fill="#00ff00"/><rect x="116" y="660" width="3" height="24" fill="#00ff00"/><rect x="132" y="653" width="3" height="31" fill="#00ff00"/><rect x="148" y="646" width="3" height="38" fill="#00ff00"/><rect x="164" y="641" width="3" height="43" fill="#00ff00"/><rect x="180" y="638" width="3" height="46" fill="#00ff00"/><rect x="196" y="639" width="3" height="45" fill="#00ff00"/><rect x="212" y="634" width="3" height="50" fill="#00ff00"/><rect x="228" y="630" width="3" height="54" fill="#00ff00"/><rect x="244" y="628" width="3" height="56" fill="#00ff00"/><rect x="260" y="627" width="3" height="57" fill="#00ff00"/><rect x="276" y="626" width="3" height="58" fill="#00ff00"/><rect x="292" y="624" width="3" height="60" fill="#00ff00"/><rect x="308" y="623" width="3" height="61" fill="#00ff00"/><rect x="324" y="620" width="3" height="64" fill="#00ff00"/><rect x="340" y="619" width="3" height="65" fill="#00ff00"/><rect x="356" y="618" width="3" height="66" fill="#00ff00"/><rect x="372" y="618" width="3" height="66" fill="#00ff00"/><rect x="388" y="620" width="3" height="64" fill="#00ff00"/><rect x="404" y="620" width="3" height="64" fill="#00ff00"/><rect x="420" y="625" width="3" height="59" fill="#00ff00"/><rect x="436" y="628" width="3" height="56" fill="#00ff00"/><rect x="452" y="629" width="3" height="55" fill="#00ff00"/><rect x="468" y="631" width="3" height="53" fill="#00ff00"/><rect x="484" y="632" width="3" height="52" fill="#00ff00"/><rect x="500" y="632" width="3" height="52" fill="#00ff00"/><rect x="516" y="637" width="3" height="47" fill="#00ff00"/><rect x="532" y="642" width="3" height="42" fill="#00ff00"/><rect x="548" y="646" width="3" height="38" fill="#00ff00"/><rect x="564" y="650" width="3" height="34" fill="#00ff00"/><rect x="580" y="659" width="3" height="25" fill="#00ff00"/><rect x="596" y="668" width="3" height="16" fill="#00ff00"/><rect x="612" y="679" width="3" height="5" fill="#00ff00"/><rect x="628" y="684" width="3" height="4" fill="#00ff00"/><rect x="644" y="684" width="3" height="9" fill="#00ff00"/><rect x="660" y="684" width="3" height="14" fill="#00ff00"/><rect x="676" y="684" width="3" height="22" fill="#00ff00"/><rect x="692" y="684" width="3" height="25" fill="#00ff00"/><rect x="708" y="684" width="3" height="27" fill="#00ff00"/><rect x="724" y="684" width="3" height="27" fill="#00ff00"/><rect x="740" y="684" width="3" height="27" fill="#00ff00"/><rect x="756" y="684" width="3" height="29" fill="#00ff00"/><rect x="772" y="684" width="3" height="31" fill="#00ff00"/><rect x="788" y="684" width="3" height="32" fill="#00ff00"/><rect x="804" y="684" width="3" height="29" fill="#00ff00"/><rect x="820" y="684" width="3" height="26" fill="#00ff00"/><rect x="836" y="684" width="3" height="24" fill="#00ff00"/><rect x="852" y="684" width="3" height="21" fill="#00ff00"/><rect x="868" y="684" width="3" height="17" fill="#00ff00"/><rect x="884" y="684" width="3" height="12" fill="#00ff00"/><rect x="900" y="684" width="3" height="7" fill="#00ff00"/><rect x="916" y="684" width="3" height="3" fill="#00ff00"/><rect x="932" y="680" width="3" height="4" fill="#00ff00"/><rect x="948" y="677" width="3" height="7" fill="#00ff00"/><rect x="964" y="675" width="3" height="9" fill="#00ff00"/><rect x="980" y="670" width="3" height="14" fill="#00ff00"/><rect x="996" y="667" width="3" height="17" fill="#00ff00"/><rect x="1012" y="665" width="3" height="19" fill="#00ff00"/><rect x="1028" y="663" width="3" height="21" fill="#00ff00"/><rect x="1044" y="661" width="3" height="23" fill="#00ff00"/><rect x="1060" y="662" width="3" height="22" fill="#00ff00"/><rect x="1076" y="663" width="3" height="21" fill="#00ff00"/><rect x="1092" y="666" width="3" height="18" fill="#00ff00"/><rect x="1108" y="667" width="3" height="17" fill="#00ff00"/><rect x="1124" y="665" width="3" height="19" fill="#00ff00"/><rect x="1140" y="662" width="3" height="22" fill="#00ff00"/><rect x="1156" y="658" width="3" height="26" fill="#00ff00"/><rect x="1172" y="651" width="3" height="33" fill="#00ff00"/><rect x="1188" y="648" width="3" height="36" fill="#00ff00"/><rect x="1204" y="646" width="3" height="38" fill="#00ff00"/><rect x="1220" y="642" width="3" height="42" fill="#00ff00"/><rect x="1236" y="641" width="3" height="43" fill="#00ff00"/><rect x="1252" y="640" width="3" height="44" fill="#00ff00"/><rect x="1268" y="639" width="3" height="45" fill="#00ff00"/><rect x="1284" y="638" width="3" height="46" fill="#00ff00"/><rect x="1300" y="637" width="3" height="47" fill="#00ff00"/><rect x="1316" y="638" width="3" height="46" fill="#00ff00"/><rect x="1332" y="641" width="3" height="43" fill="#00ff00"/><rect x="1348" y="641" width="3" height="43" fill="#00ff00"/><rect x="1364" y="641" width="3" height="43" fill="#00ff00"/><rect x="1380" y="641" width="3" height="43" fill="#00ff00"/><polyline points="5,671 21,669.5 37,668 53,667 69,666.5 85,667.5 101,667.5 117,667 133,666.5 149,664.5 165,661.5 181,657.5 197,654.5 213,650.5 229,645 245,641.5 261,637.5 277,634.5 293,632 309,630 325,628.5 341,626.5 357,624.5 373,623 389,622 405,621 421,621 437,621.5 453,622.5 469,623.5 485,625.5 501,626 517,628.5 533,631 549,634.5 565,636.5 581,640 597,643.5 613,648.5 629,655 645,662 661,669 677,676 693,683 709,688.5 725,694.5 741,700 757,703 773,705.5 789,708.5 805,710.5 821,710.5 837,710.5 853,710 869,709 885,707 901,705 917,702 933,698 949,694 965,690 981,686 997,682 1013,678 1029,675 1045,672 1061,669 1077,667 1093,666 1109,665 1125,664 1141,663.5 1157,663.5 1173,662 1189,660 1205,658 1221,656 1237,653 1253,650 1269,647.5 1285,645.5 1301,642.5 1317,641.5 1333,640.5 1349,640 1365,640 1381,640" fill="none" stroke="#ff0000" stroke-width="2" shape-rendering="crispEdges"/></g><rect x="1645" y="614" width="1" height="1" fill="#000"/><rect x="1645" y="684" width="1" height="1" fill="#000"/><rect x="1645" y="719" width="1" height="1" fill="#000"/><g clip-path="url(#crsi)"><line x1="6" y1="744.5" x2="1644" y2="744.5" stroke="#000" stroke-width="1" stroke-dasharray="3,3"/><line x1="6" y1="774.5" x2="1644" y2="774.5" stroke="#000" stroke-width="1" stroke-dasharray="3,3"/><line x1="6" y1="810.5" x2="1644" y2="810.5" stroke="#000" stroke-width="1" stroke-dasharray="3,3"/><polyline points="5,773 21,771.5 37,771.5 53,773 69,770.5 85,769.5 101,763 117,755 133,754.5 149,751.5 165,751 181,752.5 197,760.5 213,753.5 229,752.5 245,754.5 261,754 277,753 293,752 309,751.5 325,749 341,749 357,749 373,748 389,749.5 405,750 421,759.5 437,758 453,756.5 469,755.5 485,754 501,751.5 517,765 533,768.5 549,768 565,767.5 581,782.5 597,786 613,792 629,788 645,786.5 661,787.5 677,793.5 693,787 709,786.5 725,781.5 741,783 757,787.5 773,789 789,786.5 805,779 821,778 837,779 853,776.5 869,772.5 885,769 901,767.5 917,766.5 933,761.5 949,766.5 965,766.5 981,760.5 997,762 1013,764 1029,761 1045,760.5 1061,767.5 1077,768 1093,773 1109,772 1125,763 1141,760 1157,756.5 1173,751.5 1189,755.5 1205,755.5 1221,753.5 1237,754.5 1253,754.5 1269,754.5 1285,753 1301,751.5 1317,758.5 1333,758.5 1349,757 1365,756.5 1381,753.5" fill="none" stroke="#1e90ff" stroke-width="2" shape-rendering="crispEdges"/></g><rect x="1645" y="724" width="1" height="1" fill="#000"/><rect x="1645" y="825" width="1" height="1" fill="#000"/><rect x="5" y="827" width="1" height="3" fill="#000"/><rect x="69" y="827" width="1" height="3" fill="#000"/><rect x="133" y="827" width="1" height="3" fill="#000"/><rect x="197" y="827" width="1" height="3" fill="#000"/><rect x="261" y="827" width="1" height="3" fill="#000"/><rect x="325" y="827" width="1" height="3" fill="#000"/><rect x="389" y="827" width="1" height="3" fill="#000"/><rect x="453" y="827" width="1" height="3" fill="#000"/><rect x="517" y="827" width="1" height="3" fill="#000"/><rect x="581" y="827" width="1" height="3" fill="#000"/><rect x="645" y="827" width="1" height="3" fill="#000"/><rect x="709" y="827" width="1" height="3" fill="#000"/><rect x="773" y="827" width="1" height="3" fill="#000"/><rect x="837" y="827" width="1" height="3" fill="#000"/><rect x="901" y="827" width="1" height="3" fill="#000"/><rect x="965" y="827" width="1" height="3" fill="#000"/><rect x="1029" y="827" width="1" height="3" fill="#000"/><rect x="1093" y="827" width="1" height="3" fill="#000"/><rect x="1157" y="827" width="1" height="3" fill="#000"/><rect x="1221" y="827" width="1" height="3" fill="#000"/><rect x="1285" y="827" width="1" height="3" fill="#000"/><rect x="1349" y="827" width="1" height="3" fill="#000"/><rect x="2" y="847" width="1689" height="1" fill="#e3e3e3"/><rect x="1690" y="28" width="1" height="820" fill="#e3e3e3"/>
<g font-family='"Liberation Sans", sans-serif' text-rendering="geometricPrecision"><text transform="translate(1650,50) scale(0.97,1)" fill="#000" font-size="9.6" text-anchor="start" >28692.0</text><text transform="translate(1650,116) scale(0.97,1)" fill="#000" font-size="9.6" text-anchor="start" >28497.0</text><text transform="translate(1650,149) scale(0.97,1)" fill="#000" font-size="9.6" text-anchor="start" >28399.5</text><text transform="translate(1650,182) scale(0.97,1)" fill="#000" font-size="9.6" text-anchor="start" >28302.0</text><text transform="translate(1650,215) scale(0.97,1)" fill="#000" font-size="9.6" text-anchor="start" >28204.5</text><text transform="translate(1650,248) scale(0.97,1)" fill="#000" font-size="9.6" text-anchor="start" >28104.5</text><text transform="translate(1650,281) scale(0.97,1)" fill="#000" font-size="9.6" text-anchor="start" >28007.0</text><text transform="translate(1650,314) scale(0.97,1)" fill="#000" font-size="9.6" text-anchor="start" >27909.5</text><text transform="translate(1650,347) scale(0.97,1)" fill="#000" font-size="9.6" text-anchor="start" >27812.0</text><text transform="translate(1650,380) scale(0.97,1)" fill="#000" font-size="9.6" text-anchor="start" >27714.5</text><text transform="translate(1650,413) scale(0.97,1)" fill="#000" font-size="9.6" text-anchor="start" >27617.0</text><text transform="translate(1650,446) scale(0.97,1)" fill="#000" font-size="9.6" text-anchor="start" >27519.5</text><text transform="translate(1650,479) scale(0.97,1)" fill="#000" font-size="9.6" text-anchor="start" >27419.5</text><text transform="translate(1650,512) scale(0.97,1)" fill="#000" font-size="9.6" text-anchor="start" >27322.0</text><text transform="translate(1650,545) scale(0.97,1)" fill="#000" font-size="9.6" text-anchor="start" >27224.5</text><text transform="translate(1650,578) scale(0.97,1)" fill="#000" font-size="9.6" text-anchor="start" >27127.0</text><text transform="translate(1650,611) scale(0.97,1)" fill="#000" font-size="9.6" text-anchor="start" >27029.5</text><text transform="translate(20,42) scale(0.97,1)" fill="#000" font-size="9.6" text-anchor="start" >JPN225-,H4&#160;&#160;28525.7 28595.4 28520.8 28593.2</text><text transform="translate(9,625) scale(0.97,1)" fill="#000" font-size="9.6" text-anchor="start" >MACD(12,26,9) 153.90 158.42</text><text transform="translate(1648,623) scale(0.97,1)" fill="#000" font-size="9.6" text-anchor="start" >251.03</text><text transform="translate(1648,688) scale(0.97,1)" fill="#000" font-size="9.6" text-anchor="start" >0.00</text><text transform="translate(1648,717) scale(0.97,1)" fill="#000" font-size="9.6" text-anchor="start" >-126.16</text><text transform="translate(9,735) scale(0.97,1)" fill="#000" font-size="9.6" text-anchor="start" >RSI(14) 71.1477</text><text transform="translate(1649,733) scale(0.97,1)" fill="#000" font-size="9.6" text-anchor="start" >100</text><text transform="translate(1649,748) scale(0.97,1)" fill="#000" font-size="9.6" text-anchor="start" >80</text><text transform="translate(1649,778) scale(0.97,1)" fill="#000" font-size="9.6" text-anchor="start" >50</text><text transform="translate(1649,814) scale(0.97,1)" fill="#000" font-size="9.6" text-anchor="start" >15</text><text transform="translate(1649,824) scale(0.97,1)" fill="#000" font-size="9.6" text-anchor="start" >0</text><text transform="translate(4,839) scale(0.97,1)" fill="#000" font-size="9.6" text-anchor="start" >28 Mar 2023</text><text transform="translate(68,839) scale(0.97,1)" fill="#000" font-size="9.6" text-anchor="start" >28 Mar 18:55</text><text transform="translate(132,839) scale(0.97,1)" fill="#000" font-size="9.6" text-anchor="start" >29 Mar 10:55</text><text transform="translate(196,839) scale(0.97,1)" fill="#000" font-size="9.6" text-anchor="start" >30 Mar 00:00</text><text transform="translate(260,839) scale(0.97,1)" fill="#000" font-size="9.6" text-anchor="start" >30 Mar 18:55</text><text transform="translate(324,839) scale(0.97,1)" fill="#000" font-size="9.6" text-anchor="start" >31 Mar 10:55</text><text transform="translate(388,839) scale(0.97,1)" fill="#000" font-size="9.6" text-anchor="start" >3 Apr 00:00</text><text transform="translate(452,839) scale(0.97,1)" fill="#000" font-size="9.6" text-anchor="start" >3 Apr 18:55</text><text transform="translate(516,839) scale(0.97,1)" fill="#000" font-size="9.6" text-anchor="start" >4 Apr 10:55</text><text transform="translate(580,839) scale(0.97,1)" fill="#000" font-size="9.6" text-anchor="start" >5 Apr 00:00</text><text transform="translate(644,839) scale(0.97,1)" fill="#000" font-size="9.6" text-anchor="start" >5 Apr 18:55</text><text transform="translate(708,839) scale(0.97,1)" fill="#000" font-size="9.6" text-anchor="start" >6 Apr 10:55</text><text transform="translate(772,839) scale(0.97,1)" fill="#000" font-size="9.6" text-anchor="start" >7 Apr 00:00</text><text transform="translate(836,839) scale(0.97,1)" fill="#000" font-size="9.6" text-anchor="start" >10 Apr 00:00</text><text transform="translate(900,839) scale(0.97,1)" fill="#000" font-size="9.6" text-anchor="start" >10 Apr 18:55</text><text transform="translate(964,839) scale(0.97,1)" fill="#000" font-size="9.6" text-anchor="start" >11 Apr 10:55</text><text transform="translate(1028,839) scale(0.97,1)" fill="#000" font-size="9.6" text-anchor="start" >12 Apr 00:00</text><text transform="translate(1092,839) scale(0.97,1)" fill="#000" font-size="9.6" text-anchor="start" >12 Apr 18:55</text><text transform="translate(1156,839) scale(0.97,1)" fill="#000" font-size="9.6" text-anchor="start" >13 Apr 10:55</text><text transform="translate(1220,839) scale(0.97,1)" fill="#000" font-size="9.6" text-anchor="start" >14 Apr 00:00</text><text transform="translate(1284,839) scale(0.97,1)" fill="#000" font-size="9.6" text-anchor="start" >14 Apr 18:55</text><text transform="translate(1348,839) scale(0.97,1)" fill="#000" font-size="9.6" text-anchor="start" >17 Apr 10:55</text><text x="930.4" y="18" fill="#3a3a3a" font-size="9.8">M1</text><text x="958.4" y="18" fill="#3a3a3a" font-size="9.8">M5</text><text x="984.5" y="18" fill="#3a3a3a" font-size="9.8">M15</text><text x="1012.2" y="18" fill="#3a3a3a" font-size="9.8">M30</text><text x="1043.7" y="18" fill="#3a3a3a" font-size="9.8">H1</text><text x="1070.8" y="18" fill="#3a3a3a" font-size="9.8">H4</text><text x="1099.9" y="18" fill="#3a3a3a" font-size="9.8">D1</text><text x="1127.4" y="18" fill="#3a3a3a" font-size="9.8">W1</text><text x="1153.8" y="18" fill="#3a3a3a" font-size="9.8">MN</text><rect x="1646" y="28" width="41" height="11" fill="#ff0000"/><text transform="translate(1650,37) scale(0.97,1)" fill="#fff" font-size="9.6">28727.1</text><rect x="1646" y="53" width="41" height="11" fill="#ff0000"/><text transform="translate(1650,62) scale(0.97,1)" fill="#fff" font-size="9.6">28654.0</text><rect x="1646" y="75" width="41" height="11" fill="#000"/><text transform="translate(1650,84) scale(0.97,1)" fill="#fff" font-size="9.6">28593.2</text><rect x="1646" y="85" width="41" height="11" fill="#ffa500"/><text transform="translate(1650,94) scale(0.97,1)" fill="#fff" font-size="9.6">28559.8</text><rect x="1646" y="117" width="41" height="11" fill="#0000ff"/><text transform="translate(1650,126) scale(0.97,1)" fill="#fff" font-size="9.6">28464.3</text><rect x="1646" y="145" width="41" height="11" fill="#0000ff"/><text transform="translate(1650,154) scale(0.97,1)" fill="#fff" font-size="9.6">28381.0</text></g>
</svg>
</body></html>
